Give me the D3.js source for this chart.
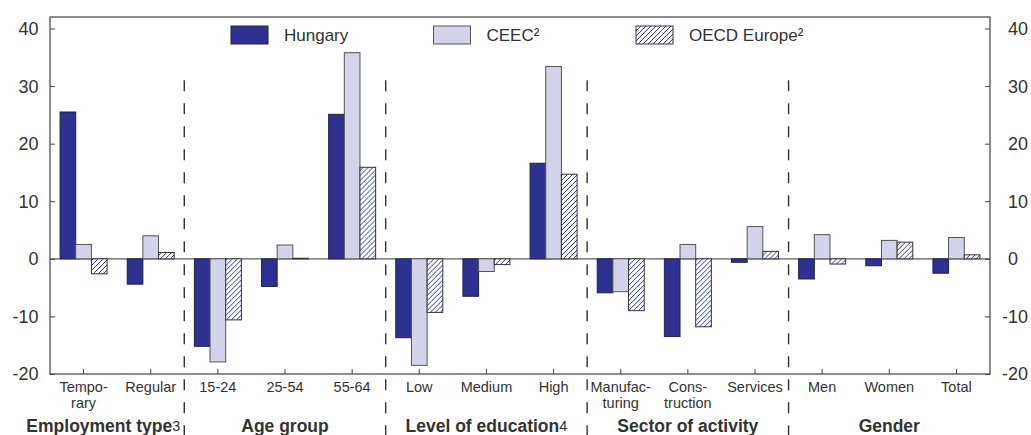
<!DOCTYPE html>
<html>
<head>
<meta charset="utf-8">
<script src="https://cdn.jsdelivr.net/npm/d3@7"></script>
<style>
  body { margin: 0; background: #fff; }
  svg { display: block; font-family: "Liberation Sans", Arial, sans-serif; }
  .tick-label { fill: #333; font-size: 18px; }
  .cat-label { fill: #333; font-size: 14.5px; }
  .group-label { fill: #333; font-size: 17.5px; font-weight: bold; }
  .legend-label { fill: #333; font-size: 17px; }
</style>
</head>
<body>
<div id="chart"></div>
<script>
// categories (two-line labels where the original wraps)
var categories = ["Temporary", "Regular", "15-24", "25-54", "55-64", "Low", "Medium", "High",
                  "Manufacturing", "Construction", "Services", "Men", "Women", "Total"];
var categoryLines = [["Tempo-", "rary"], ["Regular"], ["15-24"], ["25-54"], ["55-64"], ["Low"], ["Medium"], ["High"],
                     ["Manufac-", "turing"], ["Cons-", "truction"], ["Services"], ["Men"], ["Women"], ["Total"]];

// groups along the x axis
var groupNames = ["Employment type", "Age group", "Level of education", "Sector of activity", "Gender"];
var groupNotes = ["3", "", "4", "", ""];
var groupSizes = [2, 3, 3, 3, 3];

// series values (% change)
var seriesNames = ["Hungary", "CEEC²", "OECD Europe²"];
var hungary    = [25.5, -4.4, -15.2, -4.8, 25.1, -13.7, -6.5, 16.6, -5.9, -13.5, -0.6, -3.5, -1.2, -2.5];
var ceec       = [2.5, 4.0, -17.9, 2.4, 35.8, -18.5, -2.2, 33.4, -5.7, 2.5, 5.6, 4.2, 3.2, 3.7];
var oecdEurope = [-2.6, 1.1, -10.6, 0.1, 15.9, -9.3, -1.0, 14.7, -9.0, -11.8, 1.3, -0.9, 2.9, 0.7];

var yTicks = [-20, -10, 0, 10, 20, 30, 40];

var W = 1031, H = 435;
var margin = {top: 17, right: 41, bottom: 61, left: 50};
var width = W - margin.left - margin.right;
var height = H - margin.top - margin.bottom;

var seriesValues = [hungary, ceec, oecdEurope];
var data = categories.map(function(c, i) {
	return {cat: c, values: seriesNames.map(function(s, j) { return {key: s, value: seriesValues[j][i]}; })};
});

var x0 = d3.scaleBand().domain(categories).range([0, width]).padding(0);
var x1 = d3.scaleBand().domain(seriesNames)
	.range([x0.bandwidth() * 0.15, x0.bandwidth() * 0.85]).padding(0);
var y = d3.scaleLinear().domain([-20, 42]).range([height, 0]);

var svg = d3.select("#chart").append("svg")
	.attr("width", W)
	.attr("height", H);

// hatch pattern for OECD Europe
var defs = svg.append("defs");
var pat = defs.append("pattern")
	.attr("id", "hatch")
	.attr("patternUnits", "userSpaceOnUse")
	.attr("width", 5)
	.attr("height", 5);
pat.append("rect").attr("width", 5).attr("height", 5).attr("fill", "#fff");
pat.append("path")
	.attr("d", "M-1,1 l2,-2 M0,5 l5,-5 M4,6 l2,-2")
	.attr("stroke", "#2f36ad")
	.attr("stroke-width", 1);

var fills = {"Hungary": "#2e3192", "CEEC²": "#d3d3ea", "OECD Europe²": "url(#hatch)"};
var strokes = {"Hungary": "#222244", "CEEC²": "#555", "OECD Europe²": "#333"};

var g = svg.append("g")
	.attr("transform", "translate(" + margin.left + "," + margin.top + ")");

// zero line
g.append("line")
	.attr("x1", 0).attr("x2", width)
	.attr("y1", y(0)).attr("y2", y(0))
	.attr("stroke", "#8a8a8a")
	.attr("stroke-width", 1.6);

// bars
g.selectAll(".cat")
	.data(data)
	.enter().append("g")
		.attr("class", "cat")
		.attr("transform", function(d) { return "translate(" + x0(d.cat) + ",0)"; })
	.selectAll("rect")
	.data(function(d) { return d.values; })
	.enter().append("rect")
		.attr("x", function(d) { return x1(d.key); })
		.attr("width", x1.bandwidth())
		.attr("y", function(d) { return y(Math.max(0, d.value)); })
		.attr("height", function(d) { return Math.abs(y(d.value) - y(0)); })
		.attr("fill", function(d) { return fills[d.key]; })
		.attr("stroke", function(d) { return strokes[d.key]; })
		.attr("stroke-width", 1);

// frame
g.append("rect")
	.attr("width", width).attr("height", height)
	.attr("fill", "none")
	.attr("stroke", "#444")
	.attr("stroke-width", 1.2);

// y axes, ticks pointing inward
var leftAxis = d3.axisRight(y).tickValues(yTicks).tickSize(5).tickFormat("");
var rightAxis = d3.axisLeft(y).tickValues(yTicks).tickSize(5).tickFormat("");
g.append("g").call(leftAxis).call(function(a) { a.select(".domain").remove(); a.selectAll("line").attr("stroke", "#444"); });
g.append("g").attr("transform", "translate(" + width + ",0)")
	.call(rightAxis).call(function(a) { a.select(".domain").remove(); a.selectAll("line").attr("stroke", "#444"); });

g.selectAll(".ytl").data(yTicks).enter().append("text")
	.attr("class", "tick-label")
	.attr("x", -11.5)
	.attr("y", function(d) { return y(d); })
	.attr("dy", "0.36em")
	.attr("text-anchor", "end")
	.text(function(d) { return d; });

g.selectAll(".ytr").data(yTicks).enter().append("text")
	.attr("class", "tick-label")
	.attr("x", width + 18)
	.attr("dx", function(d) { return d < 0 ? -6 : 0; })
	.attr("y", function(d) { return y(d); })
	.attr("dy", "0.36em")
	.attr("text-anchor", "start")
	.text(function(d) { return d; });

// x axis ticks (upward, at category centres)
var bottomAxis = d3.axisTop(x0).tickSize(5).tickFormat("");
g.append("g").attr("transform", "translate(0," + height + ")")
	.call(bottomAxis).call(function(a) { a.select(".domain").remove(); a.selectAll("line").attr("stroke", "#444"); });

// category labels
var catText = g.selectAll(".cat-label")
	.data(categories)
	.enter().append("text")
		.attr("class", "cat-label")
		.attr("text-anchor", "middle")
		.attr("transform", function(d) { return "translate(" + (x0(d) + x0.bandwidth() / 2) + "," + (height + 18) + ")"; });
catText.selectAll("tspan")
	.data(function(d, i) { return categoryLines[i]; })
	.enter().append("tspan")
		.attr("x", 0)
		.attr("dy", function(d, i) { return i === 0 ? 0 : 16; })
		.text(function(d) { return d; });

// group separators and labels
var start = 0;
groupNames.forEach(function(name, i) {
	var first = categories[start];
	var last = categories[start + groupSizes[i] - 1];
	var left = x0(first), right = x0(last) + x0.bandwidth();

	var t = g.append("text")
		.attr("class", "group-label")
		.attr("text-anchor", "middle")
		.attr("x", (left + right) / 2)
		.attr("y", height + 57.5);
	t.append("tspan").text(name);
	if (groupNotes[i]) {
		t.append("tspan").attr("font-weight", "normal").attr("font-size", "14.5px")
			.attr("dy", -1).text(groupNotes[i]);
	}
	// keep the label clear of the separator to its right
	var box = t.node().getBBox();
	if (i < groupNames.length - 1 && box.x + box.width > right - 4) {
		t.attr("x", (left + right) / 2 - (box.x + box.width - (right - 4)));
	}

	if (i < groupNames.length - 1) {
		g.append("line")
			.attr("x1", right).attr("x2", right)
			.attr("y1", y(31)).attr("y2", H - margin.top)
			.attr("stroke", "#333")
			.attr("stroke-width", 1.4)
			.attr("stroke-dasharray", "11,12");
	}
	start += groupSizes[i];
});

// legend
var legend = g.selectAll(".legend")
	.data(seriesNames)
	.enter().append("g")
		.attr("class", "legend")
		.attr("transform", function(d, i) { return "translate(" + (181 + i * 202.5) + ",9)"; });
legend.append("rect")
	.attr("width", 37).attr("height", 18)
	.attr("fill", function(d) { return fills[d]; })
	.attr("stroke", function(d) { return strokes[d]; })
	.attr("stroke-width", 1);
legend.append("text")
	.attr("class", "legend-label")
	.attr("x", 53)
	.attr("y", 15)
	.text(function(d) { return d; });
</script>
</body>
</html>
